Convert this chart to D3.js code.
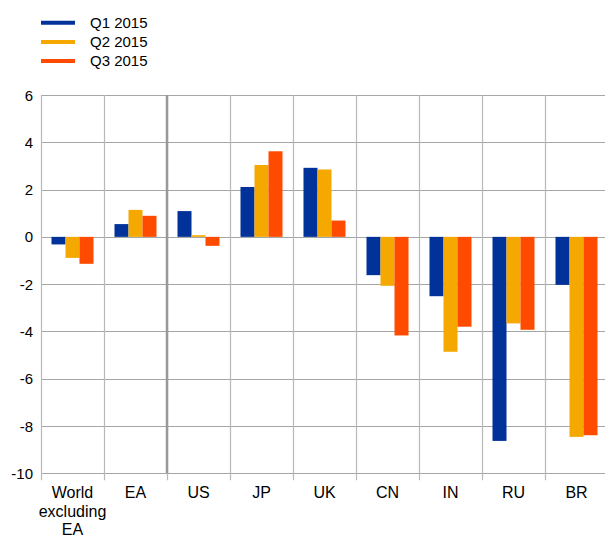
<!DOCTYPE html>
<html>
<head>
<meta charset="utf-8">
<script src="https://cdn.jsdelivr.net/npm/d3@7"></script>
<style>
  body { margin: 0; background: #fff; }
  svg { display: block; font-family: "Liberation Sans", Arial, sans-serif; }
</style>
</head>
<body>
<div id="chart"></div>
<script>
var categories = ['World excluding EA', 'EA', 'US', 'JP', 'UK', 'CN', 'IN', 'RU', 'BR']
var seriesNames = ['Q1 2015', 'Q2 2015', 'Q3 2015']
var q1 = [-0.32, 0.54, 1.09, 2.11, 2.92, -1.62, -2.51, -8.63, -2.03]
var q2 = [-0.89, 1.14, 0.07, 3.04, 2.85, -2.07, -4.86, -3.66, -8.46]
var q3 = [-1.14, 0.89, -0.38, 3.62, 0.69, -4.17, -3.80, -3.93, -8.39]
var yTicks = [-10, -8, -6, -4, -2, 0, 2, 4, 6]
var colors = ['#003299', '#f5a800', '#ff4b00']

var width = 605, height = 536
var series = [q1, q2, q3]

var svg = d3.select('#chart').append('svg')
    .attr('width', width)
    .attr('height', height)

var x = d3.scaleBand().domain(categories).range([41, 608]).paddingInner(0).paddingOuter(0)
var xs = d3.scaleBand().domain(seriesNames).range([0, x.bandwidth()]).paddingInner(0).paddingOuter(0.75)
var y = d3.scaleLinear().domain([-10, 6]).range([473.3, 95])

// horizontal grid
svg.append('g').selectAll('line').data(yTicks).join('line')
    .attr('x1', 41).attr('x2', 608)
    .attr('y1', d => Math.round(y(d)) + 0.5).attr('y2', d => Math.round(y(d)) + 0.5)
    .attr('stroke', '#a6a6a6').attr('stroke-width', 1.2)

// vertical grid + ticks below
svg.append('g').selectAll('line').data(categories).join('line')
    .attr('x1', d => Math.round(x(d)) + 0.5).attr('x2', d => Math.round(x(d)) + 0.5)
    .attr('y1', y(6)).attr('y2', y(-10) + 7)
    .attr('stroke', '#b8b8b8').attr('stroke-width', 1.2)

// separator between EA and rest
svg.append('line')
    .attr('x1', x('US')).attr('x2', x('US'))
    .attr('y1', y(6)).attr('y2', y(-10))
    .attr('stroke', '#999').attr('stroke-width', 2.5)

// bars
var groups = svg.append('g').selectAll('g').data(series).join('g')
    .attr('fill', (d, i) => colors[i])
groups.each(function(vals, si) {
  d3.select(this).selectAll('rect').data(vals).join('rect')
      .attr('x', (d, i) => x(categories[i]) + xs(seriesNames[si]))
      .attr('width', xs.bandwidth())
      .attr('y', d => y(Math.max(0, d)))
      .attr('height', d => Math.abs(y(d) - y(0)))
})

// y axis labels
svg.append('g').selectAll('text').data(yTicks).join('text')
    .attr('x', 33).attr('y', d => y(d) + 5.5)
    .attr('text-anchor', 'end')
    .attr('font-size', 15).attr('fill', '#000')
    .text(d => d)

// x axis labels
var xLabelLines = { 'World excluding EA': ['World', 'excluding', 'EA'] }
svg.append('g').selectAll('text').data(categories).join('text')
    .attr('text-anchor', 'middle')
    .attr('font-size', 16).attr('fill', '#000')
    .each(function(d) {
      var lines = xLabelLines[d] || [d]
      d3.select(this).selectAll('tspan').data(lines).join('tspan')
          .attr('x', x(d) + x.bandwidth() / 2)
          .attr('y', (l, i) => 498 + i * 18.6)
          .text(l => l)
    })

// legend
var legend = svg.append('g').selectAll('g').data(seriesNames).join('g')
    .attr('transform', (d, i) => 'translate(0,' + (22.7 + i * 19.2) + ')')
legend.append('line')
    .attr('x1', 41).attr('x2', 75)
    .attr('stroke', (d, i) => colors[i]).attr('stroke-width', 4)
legend.append('text')
    .attr('x', 90).attr('y', 5.3)
    .attr('font-size', 15).attr('fill', '#000')
    .text(d => d)
</script>
</body>
</html>
